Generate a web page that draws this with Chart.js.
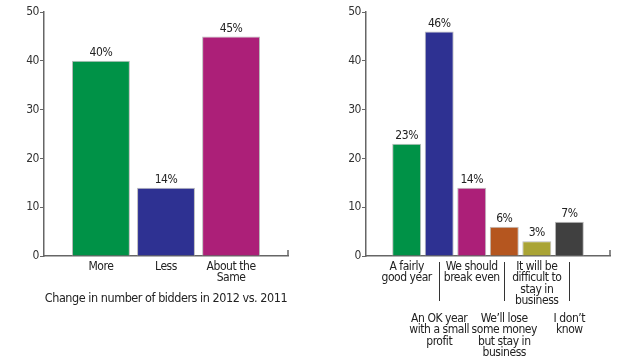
<!DOCTYPE html>
<html>
<head>
<meta charset="utf-8">
<script src="https://cdn.jsdelivr.net/npm/chart.js@4/dist/chart.umd.min.js"></script>
<style>
  body { margin: 0; background: #fff; }
  #wrap { position: relative; width: 640px; height: 360px; }
  #left { position: absolute; left: 0; top: 0; }
  #right { position: absolute; left: 320px; top: 0; }
</style>
</head>
<body>
<div id="wrap">
  <canvas id="left" width="320" height="360"></canvas>
  <canvas id="right" width="320" height="360"></canvas>
</div>
<script>
// left panel: change in bidders
const bidderLabels = ['More', 'Less', ['About the', 'Same']];
const bidderValues = [40, 14, 45];
const bidderColors = ['#009247', '#2e3192', '#ac1f78'];

// right panel: outlook for the year
const outlookLabels = [
  ['A fairly', 'good year'],
  ['An OK year', 'with a small', 'profit'],
  ['We should', 'break even'],
  ['We\u2019ll lose', 'some money', 'but stay in', 'business'],
  ['It will be', 'difficult to', 'stay in', 'business'],
  ['I don\u2019t', 'know']
];
const outlookValues = [23, 46, 14, 6, 3, 7];
const outlookColors = ['#009247', '#2e3192', '#ac1f78', '#b5561f', '#aaa435', '#404040'];

const yTicks = [0, 10, 20, 30, 40, 50];

// pick a narrow face if one is installed
function hasFont(name) {
  const c = document.createElement('canvas').getContext('2d');
  const s = 'abcdefghijklmnop ABCDEFG 0123456789';
  c.font = '20px monospace';
  const a = c.measureText(s).width;
  c.font = "20px '" + name + "', monospace";
  return c.measureText(s).width !== a;
}
const narrow = hasFont('Liberation Sans Narrow');
const FONT = narrow ? "'Liberation Sans Narrow', sans-serif" : "'DejaVu Sans Condensed', sans-serif";
const SQUEEZE = narrow ? '0px' : '-0.45px';
const AXIS = '#666';

// percent labels on top of the bars + little end tick on the x axis
const extras = {
  id: 'extras',
  beforeDraw(chart) {
    chart.ctx.letterSpacing = SQUEEZE;
  },
  afterDatasetsDraw(chart) {
    const ctx = chart.ctx;
    const meta = chart.getDatasetMeta(0);
    const vals = chart.data.datasets[0].data;
    ctx.save();
    ctx.fillStyle = '#222';
    ctx.font = '12px ' + FONT;
    ctx.textAlign = 'center';
    ctx.textBaseline = 'bottom';
    meta.data.forEach((bar, i) => {
      ctx.fillText(vals[i].y + '%', bar.x, bar.y - 2);
    });
    // end tick
    const a = chart.chartArea;
    ctx.strokeStyle = AXIS;
    ctx.lineWidth = 1.5;
    ctx.beginPath();
    ctx.moveTo(a.right, a.bottom);
    ctx.lineTo(a.right, a.bottom - 6);
    ctx.stroke();
    // separators for the lower label row
    const x2 = chart.scales.x2;
    if (x2) {
      ctx.lineWidth = 1;
      ctx.strokeStyle = '#333';
      x2.ticks.forEach(t => {
        const px = Math.round(chart.scales.x.getPixelForValue(t.value)) + 0.5;
        ctx.beginPath();
        ctx.moveTo(px, a.bottom + 6);
        ctx.lineTo(px, chart.scales.x.bottom - 7);
        ctx.stroke();
      });
    }
    ctx.restore();
  }
};

function yScale(width) {
  return {
    min: 0, max: 50,
    afterBuildTicks: s => { s.ticks = yTicks.map(v => ({ value: v })); },
    afterFit: s => { s.width = width; },
    grid: { drawOnChartArea: false, tickLength: 4, color: AXIS, lineWidth: 1 },
    border: { display: true, color: AXIS, width: 1.5 },
    ticks: { color: '#333', font: { family: FONT, size: 12 }, padding: 1 }
  };
}

function xTicks(padding, labels) {
  return {
    autoSkip: false, maxRotation: 0, padding: padding,
    color: '#222',
    font: { family: FONT, size: 12, lineHeight: 0.95 },
    callback: v => labels[v]
  };
}

function xScale(min, max, values, labels, height, extra) {
  return Object.assign({
    type: 'linear',
    position: 'bottom',
    offset: false,
    min: min, max: max,
    afterBuildTicks: s => { s.ticks = values.map(v => ({ value: v })); },
    afterFit: s => { s.height = height; },
    grid: { display: false, drawTicks: false },
    border: { display: true, color: AXIS, width: 1.5 },
    ticks: xTicks(5, labels)
  }, extra || {});
}

Chart.defaults.font.family = FONT;

new Chart(document.getElementById('left'), {
  type: 'bar',
  data: {
    datasets: [{
      data: bidderValues.map((v, i) => ({ x: i, y: v })),
      backgroundColor: bidderColors,
      borderColor: '#bbb',
      borderWidth: 1,
      barPercentage: 0.89,
      categoryPercentage: 1
    }]
  },
  options: {
    responsive: false,
    animation: false,
    layout: { padding: { top: 12, right: 32, bottom: 50, left: 0 } },
    plugins: { legend: { display: false }, tooltip: { enabled: false } },
    scales: {
      x: xScale(-0.875, 2.875, [0, 1, 2], bidderLabels, 54, {
        title: {
          display: true,
          text: 'Change in number of bidders in 2012 vs. 2011',
          color: '#222',
          font: { family: FONT, size: 12.5 },
          padding: { top: 4, bottom: 4 }
        }
      }),
      y: yScale(44)
    }
  },
  plugins: [extras]
});

new Chart(document.getElementById('right'), {
  type: 'bar',
  data: {
    datasets: [{
      data: outlookValues.map((v, i) => ({ x: i, y: v })),
      backgroundColor: outlookColors,
      borderColor: '#bbb',
      borderWidth: 1,
      barPercentage: 0.89,
      categoryPercentage: 1
    }]
  },
  options: {
    responsive: false,
    animation: false,
    layout: { padding: { top: 12, right: 30, bottom: 0, left: 0 } },
    plugins: { legend: { display: false }, tooltip: { enabled: false } },
    scales: {
      x: xScale(-1.25, 6.25, [0, 2, 4], outlookLabels, 52, { weight: 0 }),
      x2: xScale(-1.25, 6.25, [1, 3, 5], outlookLabels, 52, {
        weight: 1,
        border: { display: false },
        ticks: xTicks(5, outlookLabels)
      }),
      y: yScale(46)
    }
  },
  plugins: [extras]
});
</script>
</body>
</html>
